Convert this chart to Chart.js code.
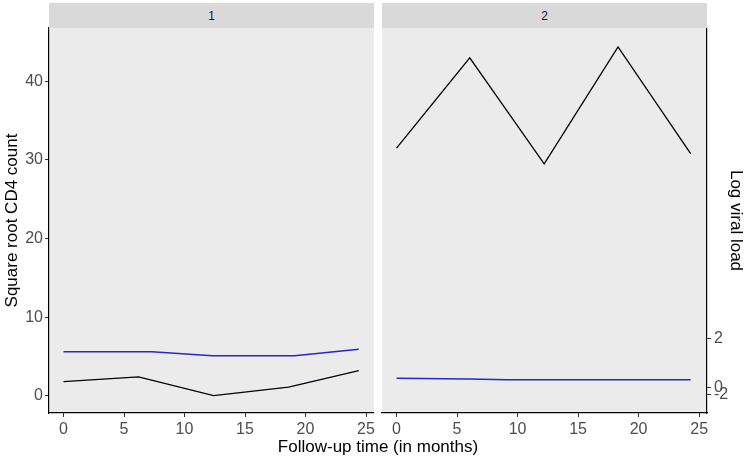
<!DOCTYPE html>
<html>
<head>
<meta charset="utf-8">
<script src="https://cdn.jsdelivr.net/npm/chart.js@4/dist/chart.umd.min.js"></script>
<style>
  body { margin:0; background:#fff; font-family:"Liberation Sans", Arial, sans-serif; }
  #wrap { position:relative; width:750px; height:463px; overflow:hidden; }
  .panel { position:absolute; top:0; height:463px; }
  .strip { position:absolute; top:3px; height:25px; background:#d9d9d9; color:#1a1a1a;
           font-size:12px; line-height:26px; text-align:center; }
  #xtitle { position:absolute; left:0; width:756px; top:437px; text-align:center;
            font-size:17px; color:#000; }
</style>
</head>
<body>
<div id="wrap">
  <div class="panel" style="left:0;width:378px"><canvas id="p1"></canvas></div>
  <div class="panel" style="left:378px;width:372px"><canvas id="p2"></canvas></div>
  <div class="strip" style="left:49px;width:325px">1</div>
  <div class="strip" style="left:382px;width:325px">2</div>
  <div id="xtitle">Follow-up time (in months)</div>
</div>
<script>
// panel 1
var cd4Time1 = [0, 6.2, 12.4, 18.6, 24.4];
var cd4Val1  = [1.8, 2.4, 0.0, 1.1, 3.2];
var vlTime1  = [0, 7.3, 12.3, 19.1, 24.4];
var vlVal1   = [5.6, 5.6, 5.1, 5.1, 5.9];
// panel 2
var cd4Time2 = [0, 6.05, 12.2, 18.3, 24.3];
var cd4Val2  = [31.5, 43.0, 29.5, 44.4, 30.8];
var vlTime2  = [0, 6.0, 9.1, 24.3];
var vlVal2   = [2.22, 2.12, 2.03, 2.03];

var xTicks = [0, 5, 10, 15, 20, 25];
var yTicks = [0, 10, 20, 30, 40];
// secondary axis labels and where they sit on the primary scale
var vlTickLabels = ['2', '0', '-2'];
var vlTickPos    = [7.3, 1.05, 0.1];

var tickFont = { family: 'Liberation Sans', size: 16 };
var titleFont = { family: 'Liberation Sans', size: 17 };

function points(xs, ys) {
    var out = [];
    for (var i = 0; i < xs.length; i++) out.push({ x: xs[i], y: ys[i] });
    return out;
}

var panelBg = {
    id: 'panelBg',
    beforeDraw: function(chart) {
        var a = chart.chartArea, ctx = chart.ctx;
        ctx.save();
        ctx.fillStyle = '#ebebeb';
        ctx.fillRect(a.left, a.top, a.right - a.left, a.bottom - a.top);
        ctx.restore();
    }
};

function xScale() {
    return {
        type: 'linear', min: -1.2, max: 25.65,
        afterBuildTicks: function(s) { s.ticks = xTicks.map(function(v){ return { value: v }; }); },
        afterFit: function(s) { s.height = 50; },
        grid: { drawOnChartArea: false, drawTicks: true, tickLength: 4, color: '#333' },
        border: { display: true, color: '#000', width: 1.2 },
        ticks: { color: '#4d4d4d', font: tickFont, padding: 3, maxRotation: 0 }
    };
}

function lines(t1, v1, t2, v2) {
    return [
        { data: points(t1, v1), borderColor: '#000', borderWidth: 1.3, pointRadius: 0, tension: 0 },
        { data: points(t2, v2), borderColor: '#2626cc', borderWidth: 1.5, pointRadius: 0, tension: 0 }
    ];
}

var common = {
    responsive: true, maintainAspectRatio: false, animation: false,
    plugins: { legend: { display: false }, tooltip: { enabled: false } }
};

new Chart(document.getElementById('p1'), {
    type: 'line',
    data: { datasets: lines(cd4Time1, cd4Val1, vlTime1, vlVal1) },
    options: Object.assign({}, common, {
        layout: { padding: { top: 28, right: 4, left: 0, bottom: 0 } },
        scales: {
            x: xScale(),
            y: {
                type: 'linear', min: -2.2, max: 46.8, position: 'left',
                afterBuildTicks: function(s) { s.ticks = yTicks.map(function(v){ return { value: v }; }); },
                afterFit: function(s) { s.width = 49; },
                grid: { drawOnChartArea: false, drawTicks: true, tickLength: 4, color: '#333' },
                border: { display: true, color: '#000', width: 1.2 },
                ticks: { color: '#4d4d4d', font: tickFont, padding: 2 },
                title: { display: true, text: 'Square root CD4 count', color: '#000', font: titleFont,
                         padding: { top: 2, bottom: 0 } }
            }
        }
    }),
    plugins: [panelBg]
});

new Chart(document.getElementById('p2'), {
    type: 'line',
    data: { datasets: lines(cd4Time2, cd4Val2, vlTime2, vlVal2) },
    options: Object.assign({}, common, {
        layout: { padding: { top: 28, right: 0, left: 4, bottom: 0 } },
        scales: {
            x: xScale(),
            y: {
                type: 'linear', min: -2.2, max: 46.8, position: 'right',
                afterBuildTicks: function(s) { s.ticks = vlTickPos.map(function(v){ return { value: v }; }); },
                afterFit: function(s) { s.width = 43; },
                grid: { drawOnChartArea: false, drawTicks: true, tickLength: 4, color: '#333' },
                border: { display: true, color: '#000', width: 1.2 },
                ticks: {
                    color: '#4d4d4d', font: tickFont, padding: 3,
                    callback: function(v, i) { return vlTickLabels[i]; }
                },
                title: { display: true, text: 'Log viral load', color: '#000', font: titleFont,
                         padding: { top: 4, bottom: 0 } }
            }
        }
    }),
    plugins: [panelBg]
});
</script>
</body>
</html>
